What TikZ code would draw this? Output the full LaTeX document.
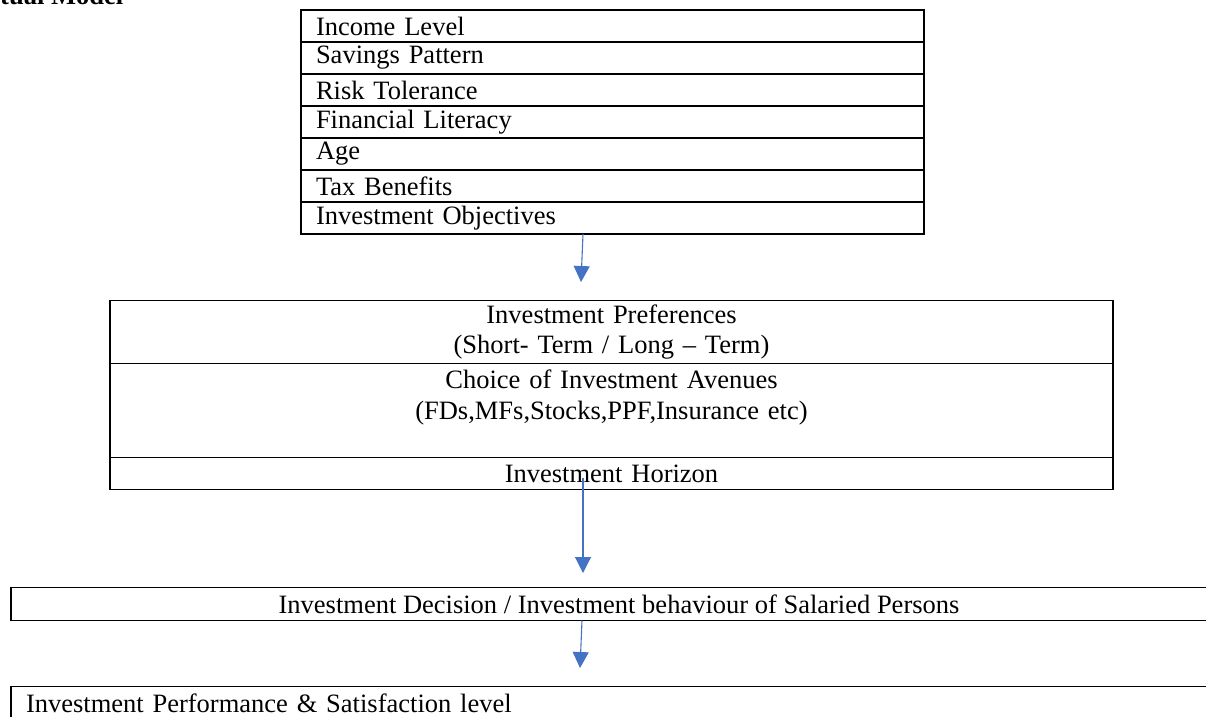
\documentclass[tikz,border=0pt]{standalone}
\usepackage{fontspec}
\setmainfont{Liberation Serif}
\definecolor{flowblue}{RGB}{68,114,196}
\usepackage{tikz}
\usetikzlibrary{arrows.meta,positioning}

\begin{document}
\begin{tikzpicture}[x=1pt, y=-1pt,
    cell/.style={draw, line width=1.6pt, outer sep=0pt, inner ysep=0pt,
                 font=\fontsize{26.5}{30}\selectfont},
    factor/.style={cell, minimum height=32pt, text width=593pt, inner xsep=15pt, align=left},
    wide/.style={cell, minimum width=1003pt, text width=1003pt, inner xsep=0pt, align=center},
    flow/.style={draw=flowblue, line width=1.1pt, -{Triangle[length=16pt,width=16pt]}}]
    \useasboundingbox (0,0) rectangle (1206,716);
    \clip (0,0) rectangle (1206,716);

    % Title (cut off at the page edge)
    \node[font=\fontsize{26.5}{30}\selectfont\bfseries, anchor=base west, inner sep=0pt] (title) at (0,4) {tual Model};

    % Factors
    \node[factor] (income) at (612.5,26) {Income Level};
    \node[factor, below=0pt of income] (savings) {Savings Pattern};
    \node[factor, below=0pt of savings] (risk) {Risk Tolerance};
    \node[factor, below=0pt of risk] (literacy) {Financial Literacy};
    \node[factor, below=0pt of literacy] (age) {Age};
    \node[factor, below=0pt of age] (tax) {Tax Benefits};
    \node[factor, below=0pt of tax] (objectives) {Investment Objectives};

    % Preferences, avenues and horizon
    \node[wide, minimum height=63pt] (pref) at (611.5,332) {Investment Preferences\\(Short- Term / Long -- Term)};
    \node[wide, minimum height=94pt, below=0pt of pref, font=\fontsize{26.5}{31}\selectfont] (avenues) {Choice of Investment Avenues\\(FDs,MFs,Stocks,PPF,Insurance etc)\\\mbox{}};
    \node[wide, minimum height=32pt, below=0pt of avenues] (horizon) {Investment Horizon};

    % Decision and performance
    \node[cell, minimum width=1216pt, minimum height=33pt] (decision) at (619,604) {Investment Decision / Investment behaviour of Salaried Persons};
    \node[cell, minimum height=33pt, text width=1186pt, inner xsep=15pt, align=left] (performance) at (619,703) {Investment Performance \& Satisfaction level};

    % Arrows
    \coordinate (tip1) at (581,282);
    \coordinate (tip2) at (583,573);
    \coordinate (tip3) at (580,668);
    \draw[flow] ([xshift=-29.5pt]objectives.south) -- (tip1);
    \draw[flow] ([xshift=-28.5pt, yshift=12pt]horizon.south) -- (tip2);
    \draw[flow] ([xshift=-37pt]decision.south) -- (tip3);
\end{tikzpicture}
\end{document}
